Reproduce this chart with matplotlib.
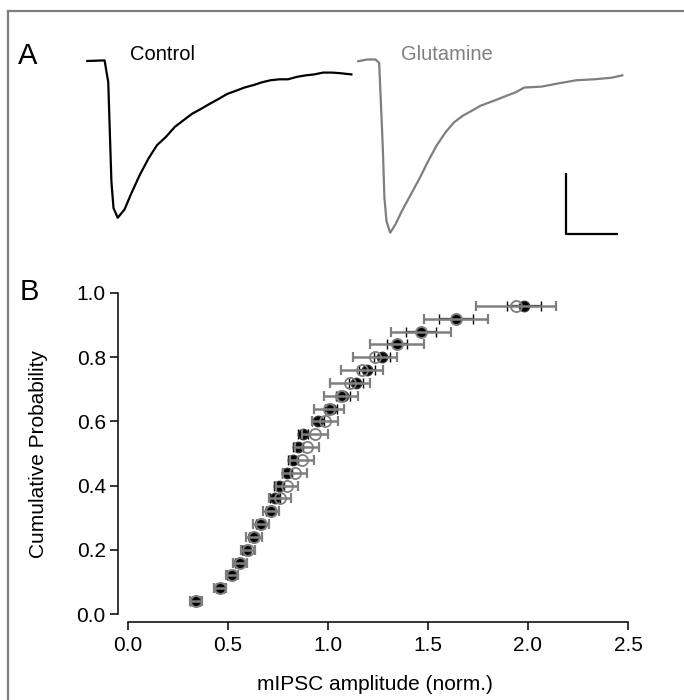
import numpy as np
import matplotlib
matplotlib.use("Agg")
import matplotlib.pyplot as plt
from matplotlib.lines import Line2D

plt.rcParams['font.family'] = ['Liberation Sans', 'DejaVu Sans']

# --- panel A: example mIPSC traces (ms, pA relative to baseline)
ctrl_t = [0, 3.3, 4.0, 4.3, 4.6, 5.0, 5.8, 7.1, 8.3, 10.0, 11.7, 13.3, 15.0, 16.7,
          18.3, 20.0, 21.7, 23.3, 25.0, 26.7, 28.3, 30.0, 31.7, 33.3, 35.0, 36.7,
          38.3, 40.0, 41.7, 43.3, 45.0, 46.7, 48.3, 50.4]
ctrl_i = [0.0, 0.2, -7.0, -23.3, -39.5, -48.2, -51.4, -48.7, -43.8, -37.4, -31.9,
          -27.6, -24.9, -21.6, -19.5, -17.3, -15.7, -14.1, -12.5, -10.8, -9.8, -8.7,
          -7.9, -7.0, -6.3, -6.0, -6.0, -5.2, -4.7, -4.4, -3.8, -3.8, -4.0, -4.4]

glut_t = [0, 1.7, 3.3, 4.0, 4.3, 4.7, 5.0, 5.4, 6.1, 7.1, 8.3, 10.0, 11.7, 13.3,
          15.0, 16.7, 18.3, 20.0, 21.7, 23.3, 25.0, 26.7, 28.3, 30.0, 31.7, 35.0,
          38.3, 41.7, 45.0, 48.3, 50.4]
glut_i = [-0.4, 0.2, 0.2, -0.9, -12.8, -29.0, -45.2, -52.8, -56.6, -53.9, -49.6,
          -44.2, -38.8, -33.3, -27.9, -23.6, -20.4, -18.2, -16.6, -15.0, -13.9,
          -12.8, -11.7, -10.6, -9.0, -8.7, -7.6, -6.6, -6.3, -5.8, -5.0]

bar_ms = 10
bar_pa = 20

# --- panel B: cumulative amplitude distributions (mean +/- SEM)
prob = [0.04, 0.08, 0.12, 0.16, 0.20, 0.24, 0.28, 0.32, 0.36, 0.40, 0.44, 0.48,
        0.52, 0.56, 0.60, 0.64, 0.68, 0.72, 0.76, 0.80, 0.84, 0.88, 0.92, 0.96]
ctrl_amp = [0.335, 0.46, 0.515, 0.555, 0.59, 0.625, 0.66, 0.71, 0.735, 0.755,
            0.795, 0.825, 0.85, 0.875, 0.95, 1.015, 1.075, 1.14, 1.195, 1.27,
            1.345, 1.465, 1.64, 1.98]
ctrl_sem = [0.025, 0.02, 0.02, 0.02, 0.02, 0.02, 0.02, 0.02, 0.025, 0.025, 0.025,
            0.025, 0.025, 0.025, 0.03, 0.03, 0.035, 0.035, 0.04, 0.04, 0.05,
            0.075, 0.085, 0.085]
glut_amp = [0.34, 0.46, 0.52, 0.56, 0.60, 0.63, 0.665, 0.715, 0.76, 0.795, 0.835,
            0.87, 0.895, 0.935, 0.985, 1.005, 1.065, 1.11, 1.17, 1.235, 1.345,
            1.465, 1.64, 1.94]
glut_sem = [0.03, 0.03, 0.03, 0.035, 0.035, 0.04, 0.04, 0.04, 0.055, 0.055, 0.06,
            0.06, 0.06, 0.065, 0.065, 0.075, 0.085, 0.10, 0.105, 0.11, 0.135,
            0.148, 0.16, 0.20]

GRAY = '#7f7f7f'
W, H = 684, 700
FS = 15

fig = plt.figure(figsize=(W / 100, H / 100), dpi=100)

# frame lines on the left and top
fig.add_artist(Line2D([8 / W, 8 / W], [0, 1 - 11 / H], color=GRAY, lw=1.6))
fig.add_artist(Line2D([8 / W, 1], [1 - 11 / H, 1 - 11 / H], color=GRAY, lw=1.6))

# ---------- A ----------
axA = fig.add_axes([0, 1 - 260 / H, 1, 260 / H])
axA.axis('off')
px_ms, px_pa = 5.24, 3.05
x0, y0 = 87.3, 61.0
axA.set_xlim(-x0 / px_ms, (W - x0) / px_ms)
axA.set_ylim((y0 - 260) / px_pa, y0 / px_pa)

glut_shift = 51.7
axA.plot(ctrl_t, ctrl_i, color='black', lw=1.6, solid_joinstyle='round')
axA.plot(np.array(glut_t) + glut_shift, np.array(glut_i) + 0.3, color=GRAY, lw=1.6,
         solid_joinstyle='round')

# scale bar
sx, sy = 91.3, -56.7
axA.plot([sx, sx, sx + bar_ms], [sy + bar_pa, sy, sy], color='black', lw=1.6,
         solid_capstyle='butt')

fig.text(18 / W, 1 - 56 / H, 'A', fontsize=21, va='center', ha='left')
fig.text(130 / W, 1 - 55 / H, 'Control', fontsize=14.5, va='center', ha='left')
fig.text(401 / W, 1 - 55 / H, 'Glutamine', fontsize=14.5, va='center', ha='left',
         color=GRAY)

# ---------- B ----------
axB = fig.add_axes([128 / W, (H - 614) / H, 500 / W, 321 / H])
axB.set_xlim(0, 2.5)
axB.set_ylim(0, 1.0)

axB.errorbar(ctrl_amp, prob, xerr=ctrl_sem, fmt='o', color='black', ms=7.5,
             mfc='black', mec='#333333', mew=1.0, elinewidth=1.6, capsize=3.6,
             capthick=1.5, ecolor='black', zorder=2, clip_on=False)
axB.errorbar(glut_amp, prob, xerr=glut_sem, fmt='none', ecolor=GRAY,
             elinewidth=1.8, capsize=3.6, capthick=1.6, zorder=3, clip_on=False)
axB.plot(glut_amp, prob, 'o', ms=8, mfc='none', mec=GRAY, mew=1.3, zorder=4,
         clip_on=False)

for s in ['top', 'right']:
    axB.spines[s].set_visible(False)
axB.spines['left'].set_position(('outward', 7))
axB.spines['bottom'].set_position(('outward', 6))
for s in ['left', 'bottom']:
    axB.spines[s].set_linewidth(1.1)

axB.set_xticks([0.0, 0.5, 1.0, 1.5, 2.0, 2.5])
axB.set_xticklabels(['0.0', '0.5', '1.0', '1.5', '2.0', '2.5'])
axB.set_yticks([0.0, 0.2, 0.4, 0.6, 0.8, 1.0])
axB.set_yticklabels(['0.0', '0.2', '0.4', '0.6', '0.8', '1.0'])
axB.tick_params(direction='out', length=6, width=1.1, labelsize=FS)
axB.tick_params(axis='x', pad=4)
axB.tick_params(axis='y', pad=3)

fig.text(375 / W, 1 - 685 / H, 'mIPSC amplitude (norm.)', fontsize=FS,
         ha='center', va='center')
fig.text(39 / W, 1 - 454 / H, 'Cumulative Probability', fontsize=FS,
         ha='center', va='center', rotation=90)
fig.text(20 / W, 1 - 292 / H, 'B', fontsize=21, va='center', ha='left')

fig.savefig('out.png', dpi=100)
